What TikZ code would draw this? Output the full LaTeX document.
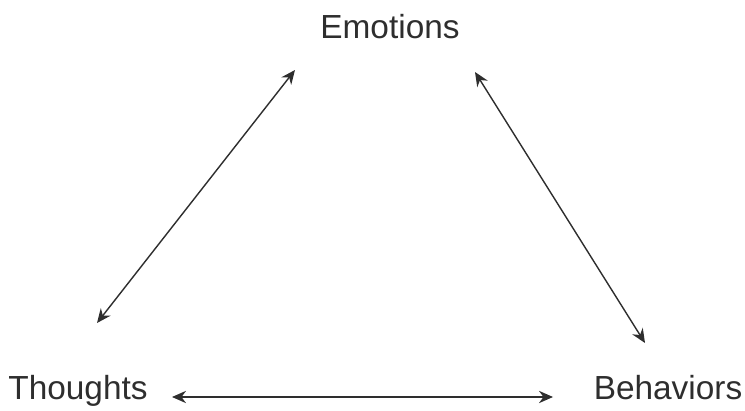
\documentclass[tikz,border=0pt]{standalone}
\usepackage{fontspec}
\setmainfont{Liberation Sans}
\usepackage{xcolor}
\usepackage{tikz}
\usetikzlibrary{arrows.meta,positioning,calc}
\definecolor{inkgray}{HTML}{2E2E2E}

\begin{document}
\begin{tikzpicture}[scale=1.0,
    lbl/.style={anchor=base,inner sep=0pt,font=\fontsize{19}{22}\selectfont,text=inkgray},
    link/.style={{Stealth[length=8pt,width=7pt]}-{Stealth[length=8pt,width=7pt]},line width=0.8pt,inkgray}]
  \useasboundingbox (0,0) rectangle (14.9,8.2);
  \node[lbl] (emotions) at (7.8,7.42) {Emotions};
  \node[lbl] (thoughts) at (1.56,0.22) {Thoughts};
  \node[lbl] (behaviors) at (13.36,0.22) {Behaviors};
  % the three two-way links
  \draw[link] ([shift={(0.38,1.52)}]thoughts.base) -- ([shift={(-1.9,-0.62)}]emotions.base);
  \draw[link] ([shift={(1.7,-0.66)}]emotions.base) -- ([shift={(-0.46,1.12)}]behaviors.base);
  \draw[link] ([shift={(1.88,0.04)}]thoughts.base) -- ([shift={(-2.3,0.04)}]behaviors.base);
\end{tikzpicture}
\end{document}
